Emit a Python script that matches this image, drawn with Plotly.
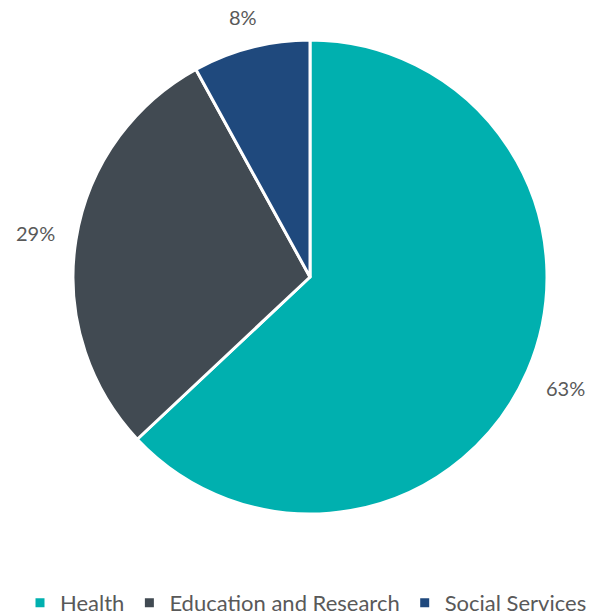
import math
import plotly.graph_objects as go

# Share of spending by sector
sectors = ["Health", "Education and Research", "Social Services"]
shares = [63, 29, 8]
colors = ["#00B0AF", "#414A52", "#1F497D"]

W, H = 600, 615
# Bottom margin reserved for the legend; the plot area is the rest of the page
BOTTOM = 60
PH = H - BOTTOM

# Pie box in pixels (left, top, size) -> converted to a plot-area domain
pie_left, pie_top, pie_size = 73, 40, 474
dom_x = [pie_left / W, (pie_left + pie_size) / W]
dom_y = [1 - (pie_top + pie_size) / PH, 1 - pie_top / PH]
cx = sum(dom_x) / 2
cy = sum(dom_y) / 2
radius = pie_size / 2
label_font = 20
label_gap = 20  # px between the pie edge and the nearest side of a label


def text_half_extent(text, size):
    # rough glyph widths for digits and the percent sign
    width = sum(0.85 * size if ch == "%" else 0.58 * size for ch in text)
    return width / 2, size * 0.42


fig = go.Figure(
    go.Pie(
        labels=sectors,
        values=shares,
        sort=False,
        direction="clockwise",
        rotation=0,
        domain=dict(x=dom_x, y=dom_y),
        marker=dict(colors=colors, line=dict(color="white", width=3)),
        textinfo="none",
        hoverinfo="label+percent",
    )
)

# Percentage labels placed outside each slice, at the slice's mid-angle
total = sum(shares)
start = 0.0
for value in shares:
    mid = (start + value / 2) / total * 2 * math.pi
    start += value
    text = f"{value}%"
    hw, hh = text_half_extent(text, label_font)
    ux, uy = math.sin(mid), math.cos(mid)
    dist = radius + label_gap + hw * abs(ux) + hh * abs(uy)
    fig.add_annotation(
        x=cx + dist * ux / W,
        y=cy + dist * uy / PH,
        xref="paper", yref="paper",
        text=text, showarrow=False,
        xanchor="center", yanchor="middle",
        font=dict(family="Lato", size=label_font, color="#595959"),
    )

fig.update_layout(
    width=W,
    height=H,
    margin=dict(l=0, r=0, t=0, b=BOTTOM),
    paper_bgcolor="white",
    plot_bgcolor="white",
    font=dict(family="Lato", size=20, color="#595959"),
    legend=dict(
        orientation="h",
        x=0.51,
        xanchor="center",
        yref="container",
        y=(H - 603) / H,
        yanchor="middle",
        font=dict(family="Lato", size=22, color="#595959"),
    ),
)

fig.write_html("out.html")
